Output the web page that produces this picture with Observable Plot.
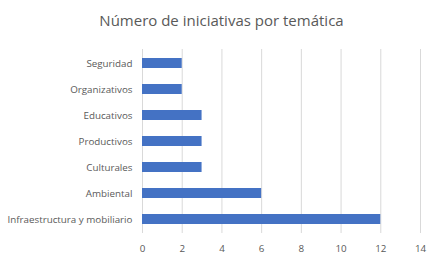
<!DOCTYPE html>
<html>
<head>
<meta charset="utf-8">
<script src="https://cdn.jsdelivr.net/npm/d3@7"></script>
<script src="https://cdn.jsdelivr.net/npm/@observablehq/plot@0.6"></script>
<style>
  body { margin: 0; background: #fff; font-family: "Open Sans", "Noto Sans", sans-serif; }
  #title { width: 443px; height: 36px; line-height: 40px; text-align: center; font-size: 15px; color: #595959; }
  #chart svg { display: block; }
</style>
</head>
<body>
<div id="title">Número de iniciativas por temática</div>
<div id="chart"></div>
<script>
const categories = ["Seguridad", "Organizativos", "Educativos", "Productivos", "Culturales", "Ambiental", "Infraestructura y mobiliario"];
const values = [2, 2, 3, 3, 3, 6, 12];
const xTicks = [0, 2, 4, 6, 8, 10, 12, 14];

const data = categories.map((c, i) => ({category: c, value: values[i]}));

const chart = Plot.plot({
  width: 443,
  height: 227,
  marginLeft: 142,
  marginRight: 23,
  marginTop: 13,
  marginBottom: 30,
  style: { fontFamily: "'Open Sans', 'Noto Sans', sans-serif", fontSize: "9.8px", color: "#595959", background: "#fff" },
  x: { domain: [0, 14], ticks: xTicks, label: null },
  y: { domain: categories, label: null, paddingInner: 0.62, paddingOuter: 0.31 },
  marks: [
    Plot.ruleX(xTicks, { stroke: "#d9d9d9", strokeWidth: 1 }),
    Plot.barX(data, { x: "value", y: "category", fill: "#4472C4" }),
    Plot.axisX({ ticks: xTicks, tickSize: 0, tickPadding: 12, label: null, fill: "#595959" }),
    Plot.axisY({ tickSize: 0, tickPadding: 10, label: null, fill: "#595959" })
  ]
});
document.getElementById("chart").appendChild(chart);
</script>
</body>
</html>
